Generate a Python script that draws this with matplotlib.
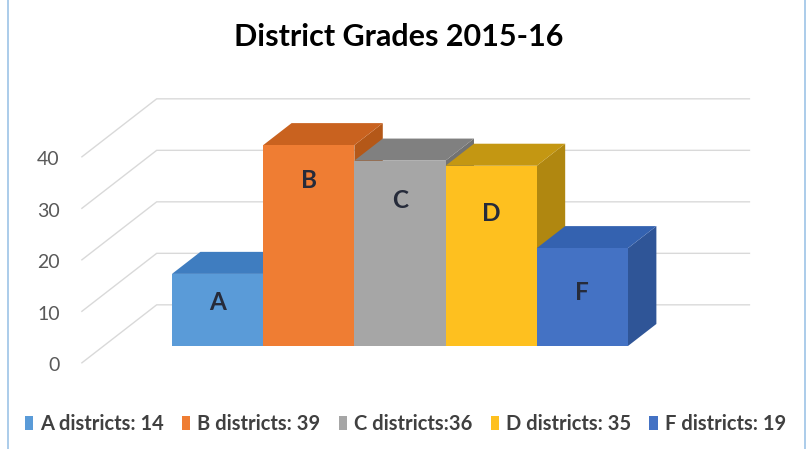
import matplotlib
matplotlib.use("Agg")
import matplotlib.pyplot as plt
from matplotlib.patches import Polygon, Patch
from matplotlib.lines import Line2D

# ---- data ----
grades = ["A", "B", "C", "D", "F"]
counts = [14, 39, 36, 35, 19]
legend_labels = ["A districts: 14", "B districts: 39", "C districts:36",
                 "D districts: 35", "F districts: 19"]
y_ticks = [0, 10, 20, 30, 40]
title = "District Grades 2015-16"

# ---- style ----
front_colors = ["#5A9BD8", "#EF7D33", "#A6A6A6", "#FEC01F", "#4472C4"]
top_colors = ["#3F7DC0", "#C9621F", "#808080", "#C49712", "#3462B0"]
side_colors = ["#3A6FA8", "#B45818", "#727272", "#B08710", "#2F5597"]
label_heights = [8.5, 32.2, 28.3, 25.8, 10.3]   # label positions (value units)

FONT = "Lato"
plt.rcParams["font.family"] = [FONT, "DejaVu Sans"]

fig = plt.figure(figsize=(8.07, 4.49), dpi=100)
ax = fig.add_axes([0, 0, 1, 1])
ax.set_xlim(-1.648, 7.201)
ax.set_ylim(-16.735, 70.45)
ax.axis("off")

KX, KY = 0.82, 11.26          # oblique offset for depth = 1 (floor front -> wall)
D_FRONT, D_BACK = 0.29, 0.67  # bar front/back depth
X0, X1 = -0.75, 5.75          # plot extent along x
GRID = "#D9D9D9"


def P(x, y, d):
    return (x + d * KX, y + d * KY)


# gridlines: side wall diagonals + back wall horizontals
for v in y_ticks:
    a = P(X0, v, 0)
    b = P(X0, v, 1)
    c = P(X1, v, 1)
    ax.add_line(Line2D([a[0], b[0], c[0]], [a[1], b[1], c[1]],
                       color=GRID, lw=1.0, zorder=1))
    ax.annotate(str(v), xy=a, xytext=(-16, -2), textcoords="offset points",
                ha="right", va="center", fontsize=14, color="#595959")

# bars (left to right so later bars overlap earlier side faces)
for i, (g, v) in enumerate(zip(grades, counts)):
    x0, x1 = i, i + 1
    top = [P(x0, v, D_FRONT), P(x1, v, D_FRONT), P(x1, v, D_BACK), P(x0, v, D_BACK)]
    side = [P(x1, 0, D_FRONT), P(x1, 0, D_BACK), P(x1, v, D_BACK), P(x1, v, D_FRONT)]
    front = [P(x0, 0, D_FRONT), P(x1, 0, D_FRONT), P(x1, v, D_FRONT), P(x0, v, D_FRONT)]
    z = 2 + i
    ax.add_patch(Polygon(side, closed=True, fc=side_colors[i], ec="none", zorder=z))
    ax.add_patch(Polygon(top, closed=True, fc=top_colors[i], ec="none", zorder=z))
    ax.add_patch(Polygon(front, closed=True, fc=front_colors[i], ec="none", zorder=z))
    cx, cy = P(x0 + 0.5, label_heights[i], D_FRONT)
    ax.text(cx, cy, g, ha="center", va="center", fontsize=17.5, fontweight="bold",
            color="#262B3A", zorder=20)

# title
fig.text(0.494, 1 - 37 / 449, title, ha="center", va="center",
         fontsize=22, fontweight="bold", color="#000000")

# legend
handles = [Patch(facecolor=c, edgecolor="none") for c in front_colors]
fig.legend(handles, legend_labels, loc="center", bbox_to_anchor=(0.502, 1 - 424 / 449),
           ncol=5, frameon=False, handlelength=0.4, handleheight=0.65,
           handletextpad=0.35, columnspacing=0.92,
           prop={"family": FONT, "weight": "bold", "size": 14.5})
for t in fig.legends[0].get_texts():
    t.set_color("#404040")

# light-blue frame edges
for xf in (8 / 807, 805 / 807):
    fig.add_artist(Line2D([xf, xf], [0, 1], transform=fig.transFigure,
                          color="#9DC3E6", lw=1.2))

fig.savefig("out.png", dpi=100, facecolor="white")
